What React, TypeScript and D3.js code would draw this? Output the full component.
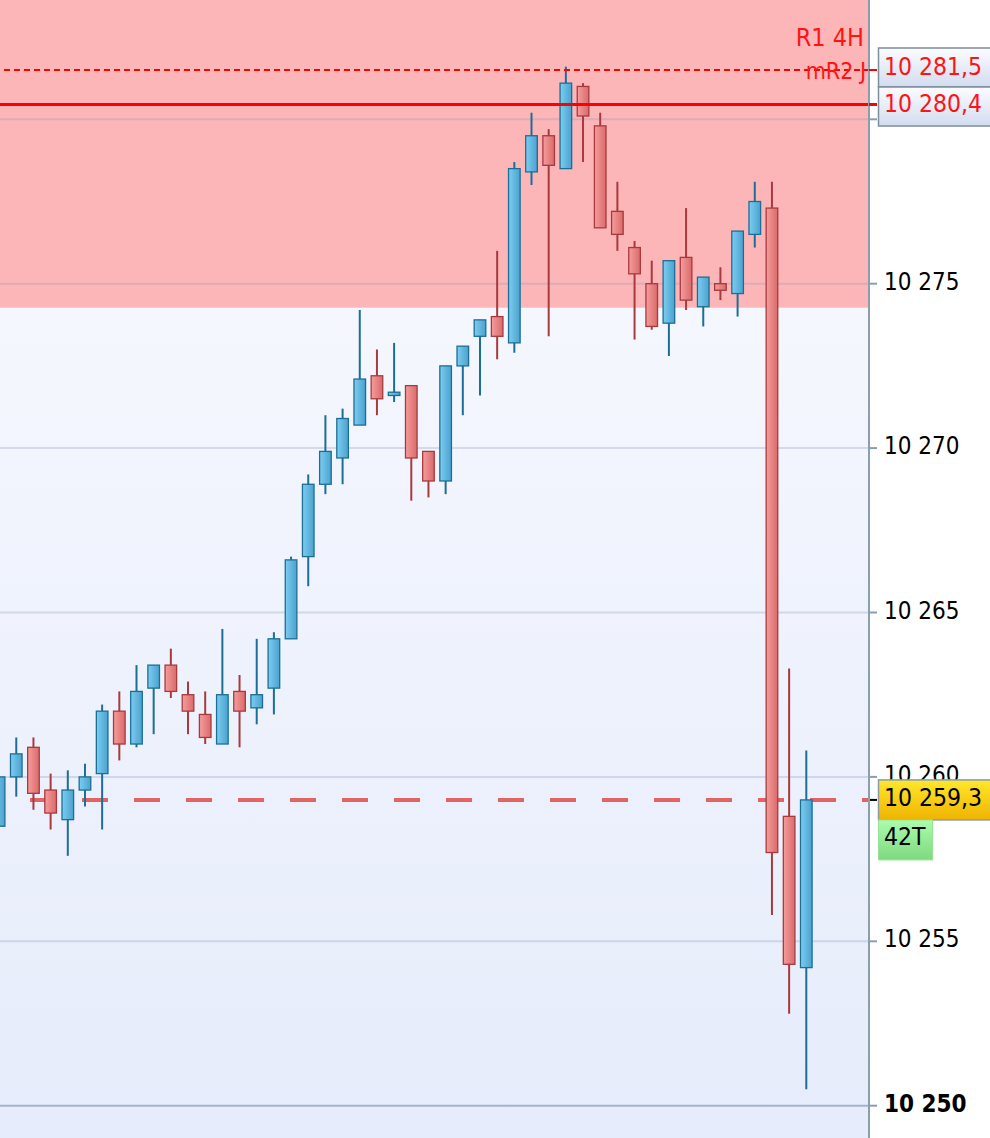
import { scaleLinear } from "d3";

const W = 990;
const H = 1138;
const AXIS_X = 869;

// OHLC, oldest first
const opens = [
  10258.5, 10260.0, 10260.9, 10259.6, 10258.7, 10259.6, 10260.1, 10262.0,
  10261.0, 10262.7, 10263.4, 10262.5, 10261.9, 10261.0, 10262.6, 10262.1,
  10262.7, 10264.2, 10266.7, 10268.9, 10269.7, 10270.7, 10272.2, 10271.6,
  10271.9, 10269.9, 10269.0, 10272.5, 10273.4, 10274.0, 10273.2, 10278.4,
  10279.5, 10278.5, 10281.0, 10279.8, 10277.2, 10276.1, 10275.0, 10273.8,
  10275.8, 10274.3, 10275.0, 10274.7, 10276.5, 10277.3, 10258.8, 10254.2,
];
const highs = [
  10260.0, 10261.2, 10261.2, 10260.1, 10260.2, 10260.4, 10262.2, 10262.6,
  10263.4, 10263.4, 10263.9, 10262.9, 10262.6, 10264.5, 10263.1, 10264.2,
  10264.4, 10266.7, 10269.2, 10271.0, 10271.2, 10274.2, 10273.0, 10273.2,
  10271.9, 10269.9, 10272.5, 10273.1, 10273.9, 10276.0, 10278.7, 10280.2,
  10279.7, 10281.6, 10281.1, 10280.2, 10278.1, 10276.3, 10275.7, 10275.7,
  10277.3, 10275.2, 10275.5, 10276.6, 10278.1, 10278.1, 10263.3, 10260.8,
];
const lows = [
  10258.5, 10259.4, 10259.0, 10258.4, 10257.6, 10259.1, 10258.4, 10260.5,
  10260.9, 10261.3, 10262.4, 10261.3, 10261.0, 10261.0, 10260.9, 10261.6,
  10261.9, 10264.2, 10265.8, 10268.6, 10268.9, 10270.7, 10271.0, 10271.4,
  10268.4, 10268.5, 10268.6, 10271.0, 10271.6, 10272.7, 10272.9, 10278.0,
  10273.4, 10278.5, 10278.7, 10276.7, 10276.0, 10273.3, 10273.6, 10272.8,
  10274.2, 10273.7, 10274.5, 10274.0, 10276.1, 10255.8, 10252.8, 10250.5,
];
const closes = [
  10260.0, 10260.7, 10259.5, 10258.9, 10259.6, 10260.0, 10262.0, 10261.0,
  10262.6, 10263.4, 10262.6, 10262.0, 10261.2, 10262.5, 10262.0, 10262.5,
  10264.2, 10266.6, 10268.9, 10269.9, 10270.9, 10272.1, 10271.5, 10271.7,
  10269.7, 10269.0, 10272.5, 10273.1, 10273.9, 10273.4, 10278.5, 10279.5,
  10278.6, 10281.1, 10280.1, 10276.7, 10276.5, 10275.3, 10273.7, 10275.7,
  10274.5, 10275.2, 10274.8, 10276.6, 10277.5, 10257.7, 10254.3, 10259.3,
];

const priceTicks = [10250, 10255, 10260, 10265, 10270, 10275, 10280];
// 10 280 sits under the level boxes, so its label is not drawn
const labelledTicks = [10250, 10255, 10260, 10265, 10270, 10275];
const zoneBottom = 10274.27;
const r1Level = 10280.45;
const mr2Level = 10281.5;
const lastPrice = 10259.3;
const r1Text = "10 280,4";
const mr2Text = "10 281,5";
const lastText = "10 259,3";
const tickCountText = "42T";

const FONT = "'DejaVu Sans Condensed', 'DejaVu Sans', sans-serif";

const fmt = (v: number) => {
  const s = String(v);
  return s.slice(0, 2) + " " + s.slice(2);
};

export default function App() {
  const y = scaleLinear().domain([10250, 10280]).range([1105.7, 119.3]);
  const x = scaleLinear()
    .domain([0, opens.length - 1])
    .range([-0.9, 806.3]);
  const bodyW = 11.6;

  const boxH = 39;
  const r1Top = y(r1Level) - boxH / 2 + 2;
  const mr2Top = r1Top - boxH;
  const lastTop = y(lastPrice) - 20;

  return (
    <svg
      width={W}
      height={H}
      style={{ position: "absolute", left: 0, top: 0, background: "#fff" }}
      fontFamily={FONT}
    >
      <defs>
        <linearGradient id="bg" x1="0" y1="0" x2="0" y2="1">
          <stop offset="0" stopColor="#fafbff" />
          <stop offset="1" stopColor="#e6ecfb" />
        </linearGradient>
        <linearGradient id="up" x1="0" y1="0" x2="1" y2="0">
          <stop offset="0" stopColor="#7ccdf0" />
          <stop offset="1" stopColor="#4aa2cf" />
        </linearGradient>
        <linearGradient id="down" x1="0" y1="0" x2="1" y2="0">
          <stop offset="0" stopColor="#f59d9d" />
          <stop offset="1" stopColor="#da6a6a" />
        </linearGradient>
        <linearGradient id="box" x1="0" y1="0" x2="0" y2="1">
          <stop offset="0" stopColor="#fbfcff" />
          <stop offset="1" stopColor="#d2dcf0" />
        </linearGradient>
        <linearGradient id="yellow" x1="0" y1="0" x2="0" y2="1">
          <stop offset="0" stopColor="#ffe82c" />
          <stop offset="1" stopColor="#efb300" />
        </linearGradient>
        <linearGradient id="green" x1="0" y1="0" x2="0" y2="1">
          <stop offset="0" stopColor="#abfcab" />
          <stop offset="1" stopColor="#7fd97f" />
        </linearGradient>
      </defs>

      <rect x={0} y={0} width={AXIS_X} height={H} fill="url(#bg)" />
      <rect x={0} y={0} width={AXIS_X} height={y(zoneBottom)} fill="#fdb6b8" />

      {priceTicks.map((p) => (
        <line
          key={p}
          x1={0}
          x2={AXIS_X}
          y1={y(p)}
          y2={y(p)}
          stroke={p === 10250 ? "#6f86a8" : "#8a94b8"}
          strokeOpacity={p === 10250 ? 0.55 : 0.28}
          strokeWidth={2}
        />
      ))}

      <line
        x1={0}
        x2={AXIS_X}
        y1={y(lastPrice)}
        y2={y(lastPrice)}
        stroke="#e06464"
        strokeWidth={4}
        strokeDasharray="26 26"
        strokeDashoffset={22}
      />

      {opens.map((o, i) => {
        const c = closes[i];
        const up = c >= o;
        const cx = x(i);
        const edge = up ? "#1d6e95" : "#a83a3e";
        const top = y(Math.max(o, c));
        const bot = y(Math.min(o, c));
        return (
          <g key={i}>
            <line
              x1={cx}
              x2={cx}
              y1={y(highs[i])}
              y2={y(lows[i])}
              stroke={edge}
              strokeWidth={2}
            />
            <rect
              x={cx - bodyW / 2}
              y={top}
              width={bodyW}
              height={Math.max(bot - top, 2)}
              fill={up ? "url(#up)" : "url(#down)"}
              stroke={edge}
              strokeWidth={1.3}
            />
          </g>
        );
      })}

      <line
        x1={0}
        x2={AXIS_X + 8}
        y1={y(r1Level)}
        y2={y(r1Level)}
        stroke="#ff0000"
        strokeWidth={3}
      />
      <line
        x1={0}
        x2={AXIS_X + 8}
        y1={y(mr2Level)}
        y2={y(mr2Level)}
        stroke="#ff0000"
        strokeWidth={2}
        strokeDasharray="6 4"
        strokeDashoffset={6}
      />
      <text x={864} y={y(mr2Level) - 24} fill="#ff1414" fontSize={25} textAnchor="end">
        R1 4H
      </text>
      <text x={866} y={y(mr2Level) + 9} fill="#ff1414" fontSize={23} textAnchor="end">
        mR2 J
      </text>

      <rect x={AXIS_X} y={0} width={W - AXIS_X} height={H} fill="#fff" />
      <line x1={AXIS_X} x2={AXIS_X} y1={0} y2={H} stroke="#8a9fae" strokeWidth={2} />
      {priceTicks.map((p) => (
        <line key={p} x1={AXIS_X} x2={AXIS_X + 8} y1={y(p)} y2={y(p)} stroke="#8a9fae" strokeWidth={2} />
      ))}
      {labelledTicks.map((p) => (
        <text
          key={p}
          x={884}
          y={y(p) + 6}
          fontSize={24}
          fontWeight={p === 10250 ? "bold" : "normal"}
          fill="#000"
        >
          {fmt(p)}
        </text>
      ))}
      <line x1={AXIS_X} x2={AXIS_X + 8} y1={y(r1Level)} y2={y(r1Level)} stroke="#ff0000" strokeWidth={3} />
      <line x1={AXIS_X} x2={AXIS_X + 8} y1={y(mr2Level)} y2={y(mr2Level)} stroke="#ff0000" strokeWidth={2} />

      <rect x={878.5} y={mr2Top} width={120} height={boxH} fill="url(#box)" stroke="#7d8e9c" strokeWidth={1.5} />
      <text x={884} y={mr2Top + 27} fontSize={24.5} fill="#ff1414">
        {mr2Text}
      </text>
      <rect x={878.5} y={r1Top} width={120} height={boxH} fill="url(#box)" stroke="#7d8e9c" strokeWidth={1.5} />
      <text x={884} y={r1Top + 25} fontSize={24.5} fill="#ff1414">
        {r1Text}
      </text>

      <line x1={AXIS_X + 1} x2={AXIS_X + 8} y1={y(lastPrice)} y2={y(lastPrice)} stroke="#000" strokeWidth={2} />
      <rect x={878.5} y={lastTop} width={120} height={40} fill="url(#yellow)" stroke="#8a9aa8" strokeWidth={1.5} />
      <text x={884} y={lastTop + 26} fontSize={24.5} fill="#000">
        {lastText}
      </text>
      <rect x={878.5} y={lastTop + 40} width={54} height={40} fill="url(#green)" stroke="#95e495" strokeWidth={1} />
      <text x={884} y={lastTop + 65} fontSize={24.5} fill="#000">
        {tickCountText}
      </text>
    </svg>
  );
}
